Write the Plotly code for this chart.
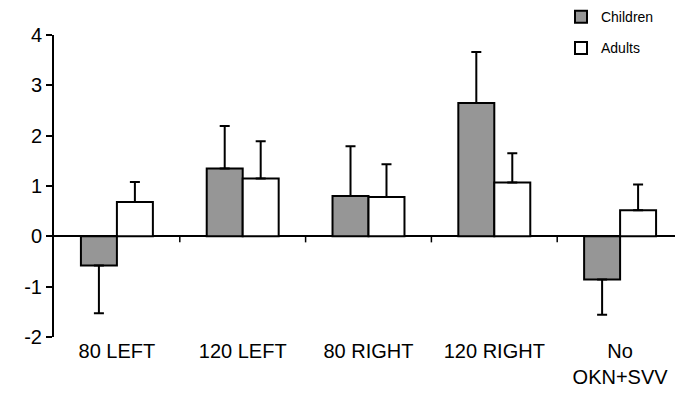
import plotly.graph_objects as go

categories = ["80 LEFT", "120 LEFT", "80 RIGHT", "120 RIGHT", "No<br>OKN+SVV"]
children = [-0.58, 1.35, 0.80, 2.65, -0.86]
children_err = [0.95, 0.84, 0.99, 1.01, 0.70]
adults = [0.68, 1.15, 0.78, 1.07, 0.52]
adults_err = [0.40, 0.74, 0.65, 0.58, 0.51]
y_ticks = [-2, -1, 0, 1, 2, 3, 4]
y_ticktext = ["-2", "-1", "0", "1", "2", "3", "4"]

def one_sided(vals, errs):
    up = [e if v >= 0 else 0 for v, e in zip(vals, errs)]
    down = [e if v < 0 else 0 for v, e in zip(vals, errs)]
    return up, down

xs = list(range(len(categories)))
cu, cd = one_sided(children, children_err)
au, ad = one_sided(adults, adults_err)

fig = go.Figure()
fig.add_trace(go.Bar(
    x=xs, y=children, name="Children", legendgroup="c",
    marker=dict(color="#969696", line=dict(color="black", width=2)),
    error_y=dict(type="data", symmetric=False, array=cu, arrayminus=cd,
                 color="black", thickness=2, width=5),
))
fig.add_trace(go.Bar(
    x=xs, y=adults, name="Adults", legendgroup="a",
    marker=dict(color="white", line=dict(color="black", width=2)),
    error_y=dict(type="data", symmetric=False, array=au, arrayminus=ad,
                 color="black", thickness=2, width=5),
))

# small tick marks on the zero line between categories and at the right end
for b in [i + 0.5 for i in xs]:
    fig.add_shape(type="line", xref="x", yref="y", x0=b, x1=b, y0=0, y1=-0.12,
                  line=dict(color="black", width=1.5))

fig.update_layout(
    width=683, height=404,
    margin=dict(l=46, r=8, t=27, b=75, autoexpand=False),
    paper_bgcolor="white", plot_bgcolor="white",
    barmode="group", bargap=0.428, bargroupgap=0,
    font=dict(family="Liberation Sans, Arial", color="black"),
    showlegend=True,
    legend=dict(x=0.806, y=1.112, xref="paper", yref="paper",
                xanchor="left", yanchor="top",
                font=dict(size=14), tracegroupgap=10,
                itemwidth=30, bgcolor="rgba(0,0,0,0)"),
    xaxis=dict(tickmode="array", tickvals=xs, ticktext=categories,
               range=[-0.5, len(categories) - 0.5], showline=False, ticks="",
               showgrid=False, zeroline=False, tickfont=dict(size=20)),
    yaxis=dict(range=[-2, 4], tickvals=y_ticks, ticktext=y_ticktext, showgrid=False,
               showline=True, linecolor="black", linewidth=2,
               ticks="outside", ticklen=6, tickwidth=1.5, tickcolor="black",
               zeroline=True, zerolinecolor="black", zerolinewidth=2,
               tickfont=dict(size=20)),
)

fig.write_html("out.html")
